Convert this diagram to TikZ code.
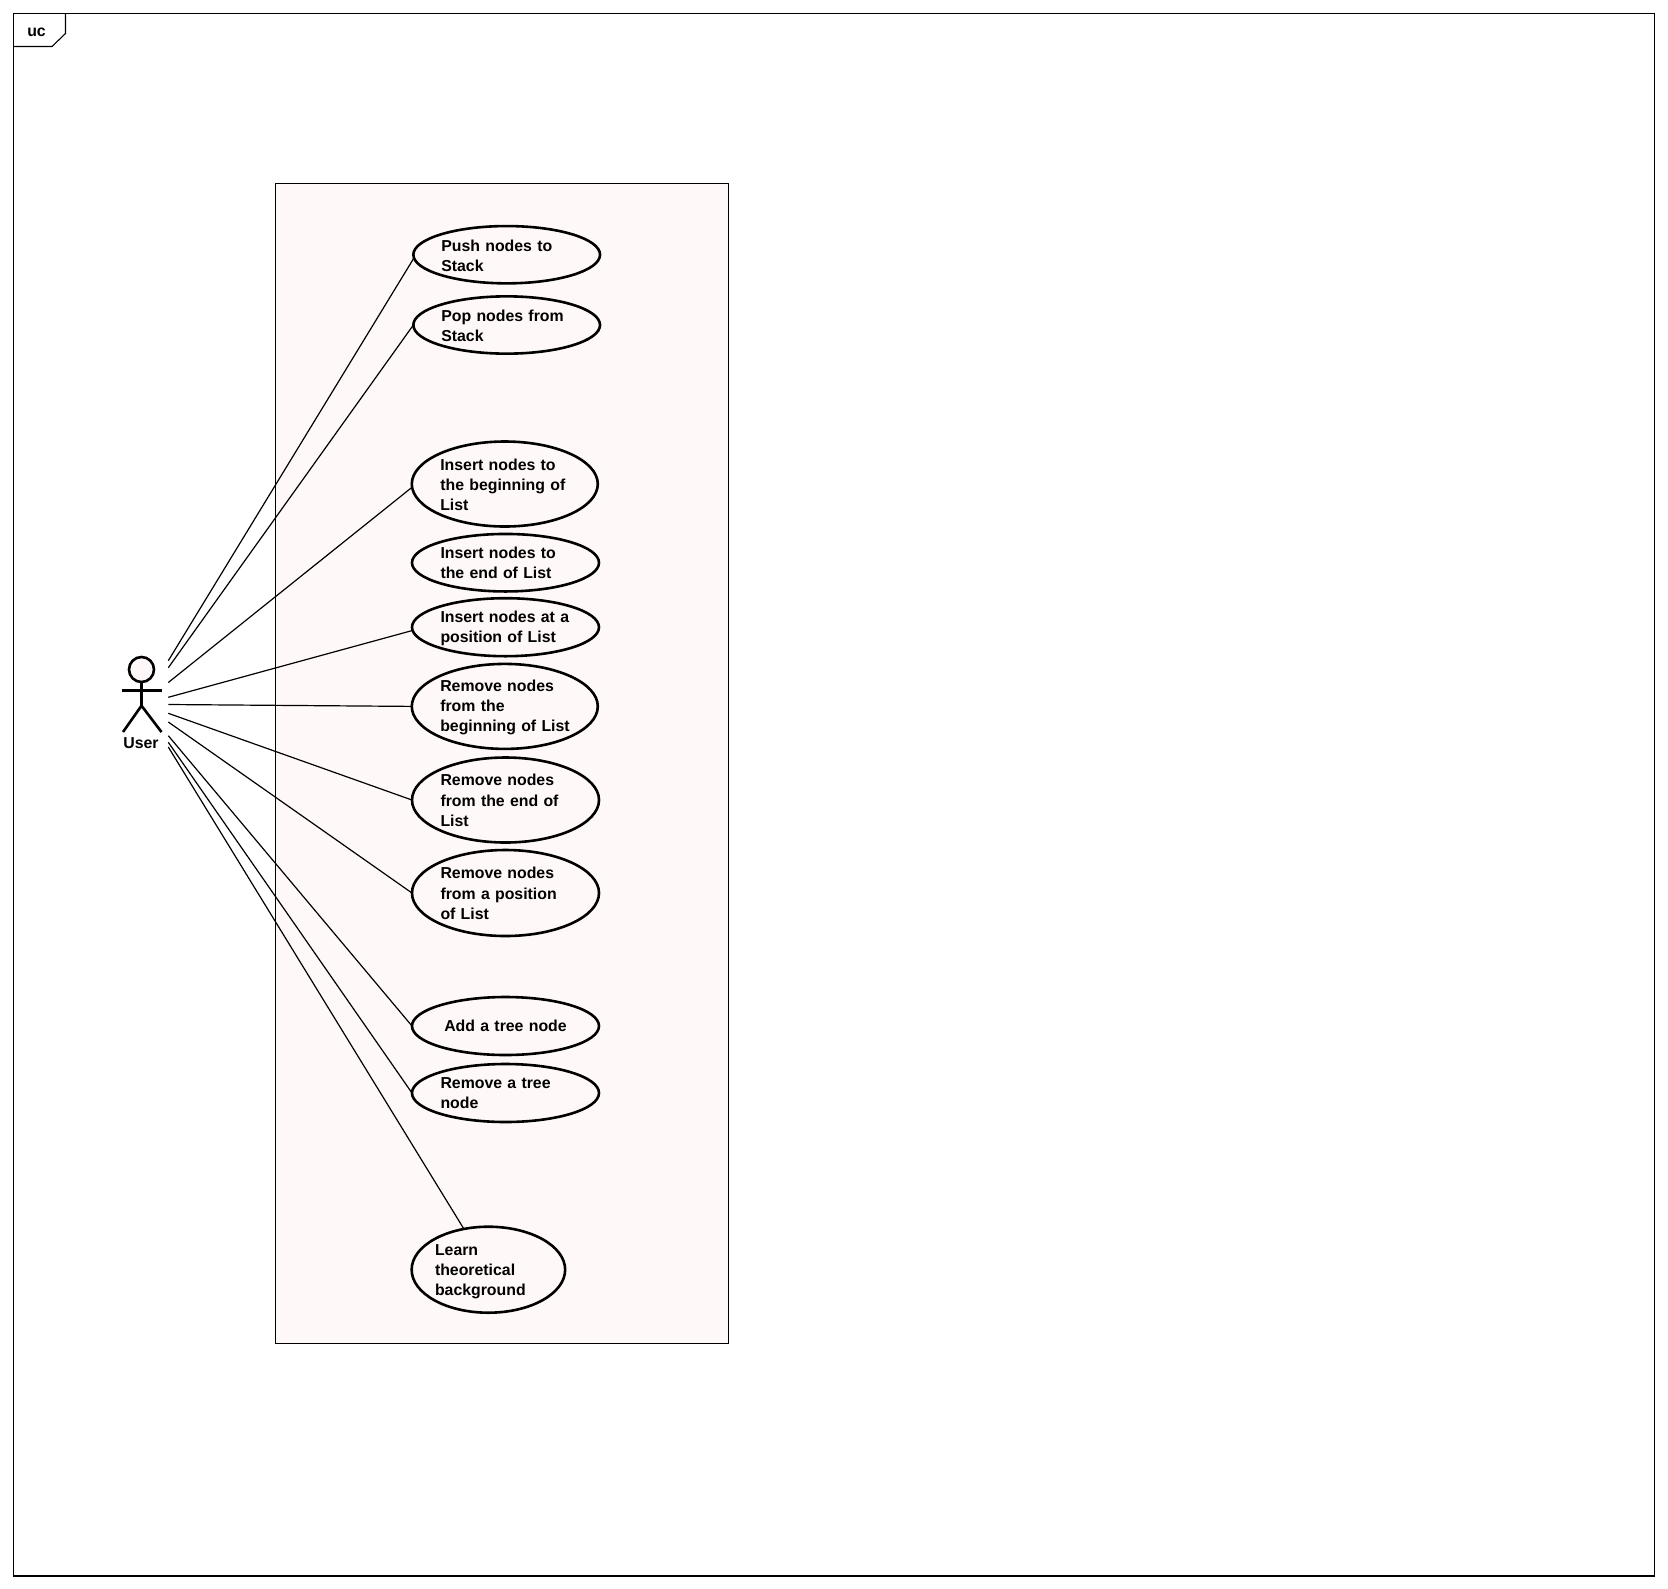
\documentclass[tikz,border=0pt]{standalone}
\usepackage{fontspec}
\setmainfont{Liberation Sans}
\usetikzlibrary{shapes.geometric}
\definecolor{ucfill}{HTML}{FFF8F8}
\tikzset{
  pxfont/.style={font=\fontsize{15.85pt}{20.2pt}\selectfont\bfseries},
  ucdrop/.style={execute at end node={\vspace{-#1pt}}},
  ucase/.style n args={3}{ellipse,draw=black,line width=2.6pt,fill=ucfill,inner sep=0pt,outer sep=0pt,
    minimum width=#1pt,minimum height=#2pt,text width=#3pt,align=left,pxfont},
  framebox/.style={draw=black,line width=1.1pt},
  link/.style={draw=black,line width=1.2pt},
  stick/.style={draw=black,line width=2.6pt},
  plaintext/.style={inner sep=0pt,pxfont}
}
\begin{document}
\begin{tikzpicture}[x=1pt,y=-1pt]
\useasboundingbox (0,0) rectangle (1668,1588);
% diagram frame
\draw[framebox] (13.5,13.7) rectangle (1654.5,1576);
\draw[framebox] (13.5,46.5) -- (52,46.5) -- (65.5,33.5) -- (65.5,13.7);
\node[plaintext] (frametitle) at (36.5,32.5) {uc};
% system boundary
\draw[framebox,fill=ucfill] (275.7,183.5) rectangle (728.7,1343.6);
% use cases
\node[ucase={186.7}{57.3}{130.8},ucdrop=1.5] (push) at (506.7,254.7) {Push nodes to\\Stack};
\node[ucase={186.7}{57.3}{130.8},ucdrop=2] (pop) at (506.7,325) {Pop nodes from\\Stack};
\node[ucase={186}{85}{129},ucdrop=2] (insbegin) at (504.8,484) {Insert nodes to\\the beginning of\\List};
\node[ucase={187}{57.5}{130},ucdrop=1] (insend) at (505.5,562.7) {Insert nodes to\\the end of List};
\node[ucase={187}{58}{130},ucdrop=2] (inspos) at (505.5,627.2) {Insert nodes at a\\position of List};
\node[ucase={186}{85}{129},ucdrop=2] (rembegin) at (504.8,706.4) {Remove nodes\\from the\\\mbox{beginning of List}};
\node[ucase={187}{85}{130},ucdrop=1] (remend) at (505.5,800) {Remove nodes\\from the end of\\List};
\node[ucase={187}{86}{130},ucdrop=1] (rempos) at (505.5,893) {Remove nodes\\from a position\\of List};
\node[ucase={187}{58}{130},align=center] (addtree) at (505.5,1026) {Add a tree node};
\node[ucase={187}{58}{130},ucdrop=1] (remtree) at (505.5,1093) {Remove a tree\\node};
\node[ucase={153.5}{86}{106.8},ucdrop=4] (learn) at (488.4,1269.7) {Learn\\theoretical\\background};
% actor
\node[circle,stick,fill=ucfill,inner sep=0pt,outer sep=0pt,minimum size=25pt] (head) at (141.5,669.5) {};
\coordinate (hip) at (141.5,705.7);
\coordinate (armL) at (122,690.3);
\coordinate (armR) at (161.7,690.3);
\coordinate (legL) at (123,732);
\coordinate (legR) at (161.5,732);
\draw[stick] (head.south) -- (hip);
\draw[stick] (armL) -- (armR);
\draw[stick] (legL) -- (hip) -- (legR);
\node[plaintext] (user) at (141,743) {User};
% connector free ends beside the actor
\coordinate (a1) at (168.3,660.7);
\coordinate (a2) at (168.3,667.7);
\coordinate (a3) at (168.3,682.5);
\coordinate (a4) at (168.3,697.3);
\coordinate (a5) at (168.3,704.5);
\coordinate (a6) at (168.3,713.3);
\coordinate (a7) at (168.3,722);
\coordinate (a8) at (168.3,735.7);
\coordinate (a9) at (168.3,742.3);
\coordinate (a10) at (168.3,747);
\draw[link] (a1) -- (push.182);
\draw[link] (a2) -- (pop.180);
\draw[link] (a3) -- (insbegin.182);
\draw[link] (a4) -- (inspos.182);
\draw[link] (a5) -- (rembegin.180);
\draw[link] (a6) -- (remend.180);
\draw[link] (a7) -- (rempos.180);
\draw[link] (a8) -- (addtree.180);
\draw[link] (a9) -- (remtree.180);
\draw[link] (a10) -- (learn.121);
\end{tikzpicture}
\end{document}
